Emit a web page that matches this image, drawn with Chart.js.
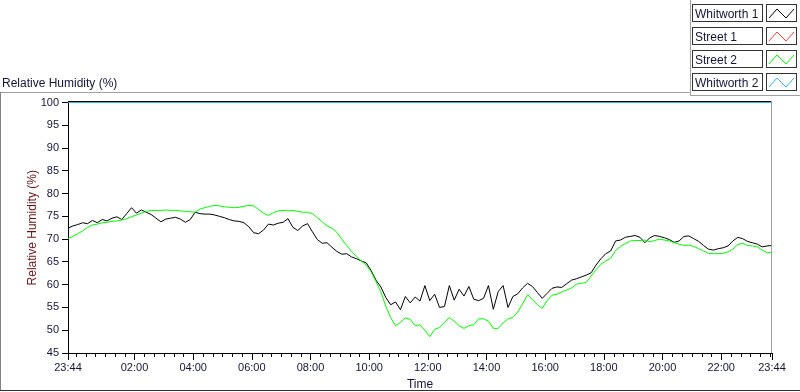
<!DOCTYPE html>
<html>
<head>
<meta charset="utf-8">
<title>Relative Humidity (%)</title>
<script src="https://cdn.jsdelivr.net/npm/chart.js@4.4.1/dist/chart.umd.min.js"></script>
<style>
  body { margin: 0; background: #ffffff; }
  canvas { display: block; }
</style>
</head>
<body>
<canvas id="chart" width="800" height="392"></canvas>
<script>
// readings every 10 minutes, starting at 23:44
const sampleStep = 10;

const whitworth1 = [
  72.4, 72.9, 73.2, 73.6, 73.4, 74.1, 73.6, 74.3, 74.0, 74.6,
  74.9, 74.3, 75.6, 76.9, 75.7, 76.4, 75.9, 75.4, 74.6, 73.8,
  74.4, 74.6, 74.8, 74.4, 73.7, 74.3, 75.9, 75.6, 75.5, 75.5,
  75.3, 75.0, 74.7, 74.3, 74.0, 73.9, 73.6, 72.7, 71.4, 71.2,
  72.0, 73.3, 73.1, 73.5, 73.7, 74.5, 72.6, 71.9, 72.9, 73.4,
  71.6, 69.9, 69.1, 69.2, 68.2, 67.3, 66.7, 66.8, 66.1, 65.7,
  65.2, 64.8, 63.1, 61.0, 59.5, 57.2, 55.6, 56.2, 54.5, 57.4,
  56.0, 57.3, 56.4, 59.8, 56.5, 57.9, 55.0, 55.2, 59.8, 56.6,
  59.0, 57.5, 59.6, 56.8, 56.5, 57.0, 59.8, 54.6, 58.5, 59.8,
  55.0, 57.4, 58.0, 59.3, 60.3, 59.6, 58.3, 57.0, 58.1, 59.2,
  59.5, 59.4, 60.2, 61.0, 61.3, 61.7, 62.1, 62.6, 64.3, 65.7,
  66.8, 67.4, 69.6, 69.8, 70.4, 70.6, 70.8, 70.4, 69.2, 70.3,
  70.8, 70.6, 70.3, 69.9, 69.3, 69.6, 70.6, 70.7, 70.1, 69.5,
  68.6, 67.8, 67.6, 67.9, 68.1, 68.5, 69.6, 70.4, 70.1, 69.5,
  69.2, 68.9, 68.3, 68.5, 68.6
];

const street1 = [];

const street2 = [
  70.1, 70.6, 71.2, 71.8, 72.6, 73.1, 73.3, 73.6, 73.7, 73.9,
  74.0, 74.2, 74.5, 74.9, 75.3, 75.7, 76.1, 76.3, 76.3, 76.3,
  76.4, 76.3, 76.3, 76.2, 76.1, 76.0, 75.9, 76.6, 76.9, 77.2,
  77.4, 77.3, 77.1, 77.0, 76.9, 77.0, 77.2, 77.4, 77.3, 76.5,
  75.7, 75.2, 75.8, 76.2, 76.3, 76.2, 76.3, 76.1, 75.9, 75.9,
  75.6, 74.7, 73.8, 72.9, 72.4, 71.5, 70.0, 68.6, 67.3, 66.2,
  65.2, 64.3, 62.8, 60.7, 58.4, 55.3, 52.8, 51.0, 51.7, 52.7,
  52.4, 51.0, 51.2, 50.0, 48.6, 50.2, 50.6, 51.6, 52.8, 52.0,
  51.0, 50.4, 51.0, 51.2, 52.5, 52.5, 52.0, 50.4, 50.4, 51.6,
  52.5, 52.8, 54.0, 55.8, 57.8, 56.8, 55.6, 54.8, 56.5, 57.7,
  57.9, 58.4, 58.8, 59.3, 60.1, 60.3, 60.5, 61.9, 63.3, 64.5,
  65.2, 65.8, 67.5, 68.4, 69.0, 69.6, 69.7, 69.7, 69.8, 69.4,
  69.7, 70.0, 69.8, 69.6, 69.2, 68.9, 68.6, 68.7, 68.4, 67.9,
  67.4, 66.9, 66.8, 66.8, 66.9, 67.2, 67.8, 68.8, 69.1, 68.6,
  68.5, 68.3, 67.6, 67.0, 67.1
];

// sits on the top of the scale the whole day
const whitworth2 = [100, 100];
const whitworth2Minutes = [0, 1440];

const seriesNames = ['Whitworth 1', 'Street 1', 'Street 2', 'Whitworth 2'];
const seriesColors = ['#000000', '#ff3c3c', '#00ff00', '#35aef0'];

const majorTickMinutes = [0, 136, 256, 376, 496, 616, 736, 856, 976, 1096, 1216, 1336, 1440];
const majorTickLabels = ['23:44', '02:00', '04:00', '06:00', '08:00', '10:00', '12:00',
  '14:00', '16:00', '18:00', '20:00', '22:00', '23:44'];
const minorTickStart = 16; // 00:00
const minorTickStep = 20;

const uiFont = '"Liberation Sans", Arial, sans-serif';
const textColor = '#14143a';

function toPoints(values) {
  return values.map((v, i) => ({ x: i * sampleStep, y: v }));
}

const frame = {
  id: 'frame',
  beforeDraw(chart) {
    const ctx = chart.ctx;
    ctx.save();
    ctx.fillStyle = '#ffffff';
    ctx.fillRect(0, 0, chart.width, chart.height);
    ctx.restore();
  },
  afterDraw(chart) {
    const ctx = chart.ctx;
    const area = chart.chartArea;
    const xs = chart.scales.x;
    ctx.save();

    // outer panel
    ctx.lineWidth = 1;
    ctx.strokeStyle = '#a0a0a0';
    ctx.beginPath();
    ctx.moveTo(0, 92.5); ctx.lineTo(690, 92.5);
    ctx.moveTo(690.5, 0); ctx.lineTo(690.5, 95.5); ctx.lineTo(800, 95.5);
    ctx.stroke();
    ctx.strokeStyle = '#808080';
    ctx.beginPath();
    ctx.moveTo(0.5, 92); ctx.lineTo(0.5, 391);
    ctx.stroke();
    ctx.strokeStyle = '#303030';
    ctx.beginPath();
    ctx.moveTo(0, 390.5); ctx.lineTo(800, 390.5);
    ctx.stroke();

    // plot frame, top and right
    ctx.strokeStyle = '#000000';
    ctx.beginPath();
    ctx.moveTo(area.left, Math.floor(area.top) - 0.5);
    ctx.lineTo(area.right, Math.floor(area.top) - 0.5);
    ctx.stroke();
    ctx.strokeStyle = '#a0a0a0';
    ctx.beginPath();
    ctx.moveTo(area.right - 0.5, Math.floor(area.top) - 1);
    ctx.lineTo(area.right - 0.5, area.bottom);
    ctx.stroke();

    // x tick marks, long for labelled ones
    ctx.strokeStyle = '#000000';
    ctx.beginPath();
    xs.ticks.forEach(t => {
      const px = Math.round(xs.getPixelForValue(t.value)) + 0.5;
      const len = majorTickMinutes.includes(t.value) ? 6 : 3;
      ctx.moveTo(px, xs.top + 1);
      ctx.lineTo(px, xs.top + 1 + len);
    });
    ctx.stroke();

    // graph caption
    ctx.fillStyle = textColor;
    ctx.font = '12px ' + uiFont;
    ctx.textAlign = 'left';
    ctx.textBaseline = 'alphabetic';
    ctx.fillText('Relative Humidity (%)', 2, 87);

    // legend boxes
    chart.data.datasets.forEach((ds, i) => {
      const y = 4 + i * 23;
      ctx.strokeStyle = '#333333';
      ctx.strokeRect(692.5, y + 0.5, 70, 17);
      ctx.strokeRect(766.5, y + 0.5, 30, 17);
      ctx.fillStyle = textColor;
      ctx.fillText(ds.label, 695, y + 14);
      ctx.strokeStyle = ds.borderColor;
      ctx.beginPath();
      ctx.moveTo(769, y + 14);
      ctx.lineTo(777, y + 5);
      ctx.lineTo(786, y + 14);
      ctx.lineTo(794, y + 5);
      ctx.stroke();
    });

    ctx.restore();
  }
};

document.addEventListener('DOMContentLoaded', function() {
  const ctx = document.getElementById('chart').getContext('2d');

  const datasets = [
    { label: seriesNames[0], data: toPoints(whitworth1), borderColor: seriesColors[0], order: 3 },
    { label: seriesNames[1], data: toPoints(street1), borderColor: seriesColors[1], order: 2 },
    { label: seriesNames[2], data: toPoints(street2), borderColor: seriesColors[2], order: 1 },
    { label: seriesNames[3], data: whitworth2.map((v, i) => ({ x: whitworth2Minutes[i], y: v })),
      borderColor: seriesColors[3], order: 0 }
  ];
  datasets.forEach(ds => {
    ds.borderWidth = 1;
    ds.pointRadius = 0;
    ds.tension = 0;
    ds.fill = false;
    ds.clip = 1; // let the line at 100 show fully
  });

  new Chart(ctx, {
    type: 'line',
    data: { datasets: datasets },
    plugins: [frame],
    options: {
      responsive: false,
      animation: false,
      events: [],
      layout: { padding: { left: 0, right: 28, top: 102.5, bottom: 0 } },
      plugins: { legend: { display: false }, tooltip: { enabled: false } },
      scales: {
        x: {
          type: 'linear',
          min: 0,
          max: 1440,
          afterFit: scale => { scale.height = 39; },
          afterBuildTicks: scale => {
            const vals = majorTickMinutes.slice();
            for (let m = minorTickStart; m < 1440; m += minorTickStep) {
              if (!vals.includes(m)) vals.push(m);
            }
            vals.sort((a, b) => a - b);
            scale.ticks = vals.map(v => ({ value: v }));
          },
          grid: { display: true, drawOnChartArea: false, drawTicks: false },
          border: { display: true, color: '#000000', width: 1 },
          ticks: {
            autoSkip: false,
            maxRotation: 0,
            padding: 8,
            color: textColor,
            font: { family: uiFont, size: 11 },
            callback: value => {
              const k = majorTickMinutes.indexOf(value);
              return k >= 0 ? majorTickLabels[k] : '';
            }
          },
          title: {
            display: true,
            text: 'Time',
            color: textColor,
            font: { family: uiFont, size: 12 },
            padding: { top: 0, bottom: 0 }
          }
        },
        y: {
          min: 45,
          max: 100,
          afterFit: scale => { scale.width = 68; },
          grid: { display: true, drawOnChartArea: false, drawTicks: true, tickLength: 6, tickColor: '#000000' },
          border: { display: true, color: '#000000', width: 1 },
          ticks: {
            stepSize: 5,
            padding: 3,
            color: textColor,
            font: { family: uiFont, size: 11 }
          },
          title: {
            display: true,
            text: 'Relative Humidity (%)',
            color: '#6b1414',
            font: { family: uiFont, size: 12 },
            padding: { top: 25, bottom: 0 }
          }
        }
      }
    }
  });
});
</script>
</body>
</html>
